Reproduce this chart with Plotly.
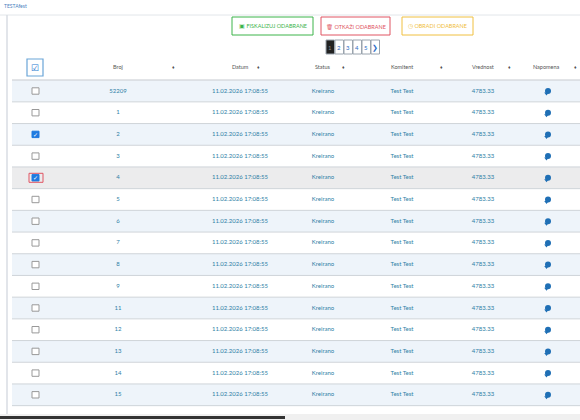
import plotly.graph_objects as go

broj = ["52209","1","2","3","4","5","6","7","8","9","11","12","13","14","15"]
datum = ["11.02.2026 17:08:55"]*len(broj)
status = ["Kreirano"]*len(broj)
komitent = ["Test Test"]*len(broj)
vrednost = ["4783.33"]*len(broj)
checked = [False,False,True,False,True,False,False,False,False,False,False,False,False,False,False]
headers = ["Broj","Datum","Status","Komitent","Vrednost","Napomena"]
head_x = [118,240,323,402,483,546]
arrow_x = [173,258,343,441,509,575]
pages = ["1","2","3","4","5","❯"]

F = "Lato"
BLUE = "#2f7fa6"
ROW0, RH = 91, 21.7
fig = go.Figure()
shapes, ann = [], []
def rect(x0,y0,x1,y1,line=None,fill=None,w=1):
    shapes.append(dict(type="rect",x0=x0,y0=y0,x1=x1,y1=y1,line=dict(color=line or "rgba(0,0,0,0)",width=w),fillcolor=fill or "rgba(0,0,0,0)",layer="below"))
def txt(x,y,t,c="#555",s=6,xa="center"):
    ann.append(dict(x=x,y=y,text=t,showarrow=False,font=dict(family=F,size=s,color=c),xanchor=xa,yanchor="middle"))

ann.append(dict(x=2,y=6,text="TESTAfest",showarrow=False,font=dict(family=F,size=5,color="#4a7fc0"),xanchor="left",yanchor="middle"))
shapes.append(dict(type="line",x0=0,x1=580,y0=15,y1=15,line=dict(color="#e2e6ea",width=1)))
shapes.append(dict(type="line",x0=7,x1=7,y0=15,y1=420,line=dict(color="#d8dde3",width=1.5)))
for (x0,x1,c,t) in [(232,313,"#3cb44b","▣ FISKALIZUJ ODABRANE"),(321,390,"#e05563","🗑 OTKAŽI ODABRANE"),(402,473,"#f0c040","◷ OBRADI ODABRANE")]:
    rect(x0,17,x1,35,line=c)
    txt((x0+x1)/2,26,t,c,5.5)
for i,p in enumerate(pages):
    x0 = 326+9*i
    rect(x0,40,x0+8.5,54,line="#9aa4ae",fill="#222" if i==0 else "white")
    txt(x0+4.25,47,p,"#888" if i==0 else "#2a6bc4",6 if i<5 else 7)
rect(27,59,43,76,line="#6aa5d8",w=1.2)
txt(35,67,"☑","#2a7ad0",9)
for h,x,a in zip(headers,head_x,arrow_x):
    txt(x,67,h,"#555",5.5)
    txt(a,67,"♦","#555",5)
shapes.append(dict(type="line",x0=12,x1=580,y0=80,y1=80,line=dict(color="#c5cad0",width=1.2)))
ys = [ROW0+i*RH for i in range(len(broj))]
for i,y in enumerate(ys):
    fill = "#ececed" if i==4 else ("#eef4fa" if i%2==0 else "white")
    rect(12,y-RH/2,580,y+RH/2,fill=fill)
    shapes.append(dict(type="line",x0=12,x1=580,y0=y+RH/2,y1=y+RH/2,line=dict(color="#cfd4d9",width=1)))
    if checked[i]:
        rect(32,y-3.2,39,y+3.2,fill="#1f7ae0",line="#1f7ae0")
        txt(35.5,y,"✓","white",6)
        if i==4: rect(29,y-4.5,43,y+4.5,line="#e05563")
    else:
        rect(32,y-3.2,39,y+3.2,fill="white",line="#999")
for xs,col in zip([118,240,323,402,483],[broj,datum,status,komitent,vrednost]):
    fig.add_trace(go.Scatter(x=[xs]*len(col),y=ys,text=col,mode="text",textfont=dict(family=F,size=6,color=BLUE),hoverinfo="skip"))
fig.add_trace(go.Scatter(x=[548]*len(broj),y=ys,mode="markers",marker=dict(symbol="circle",size=6,color="#1f6fb5"),hoverinfo="skip"))
fig.add_trace(go.Scatter(x=[546.5]*len(broj),y=[y+2.5 for y in ys],mode="markers",marker=dict(symbol="triangle-down",size=4,color="#1f6fb5"),hoverinfo="skip"))
shapes.append(dict(type="rect",x0=0,x1=580,y0=414,y1=420,fillcolor="#f0f0f0",line=dict(width=0)))
shapes.append(dict(type="rect",x0=0,x1=285,y0=416,y1=419,fillcolor="#333",line=dict(width=0)))
fig.update_layout(width=580,height=420,margin=dict(l=0,r=0,t=0,b=0),plot_bgcolor="white",paper_bgcolor="white",
    showlegend=False,shapes=shapes,annotations=ann,
    xaxis=dict(range=[0,580],visible=False,fixedrange=True),yaxis=dict(range=[420,0],visible=False,fixedrange=True))
fig.write_html("out.html",config={"displayModeBar":False})
with open("out.html",encoding="utf-8") as f:
    h = f.read()
h = h.replace("<head>","<head><style>html,body{margin:0;padding:0;overflow:hidden}</style>",1)
with open("out.html","w",encoding="utf-8") as f:
    f.write(h)
